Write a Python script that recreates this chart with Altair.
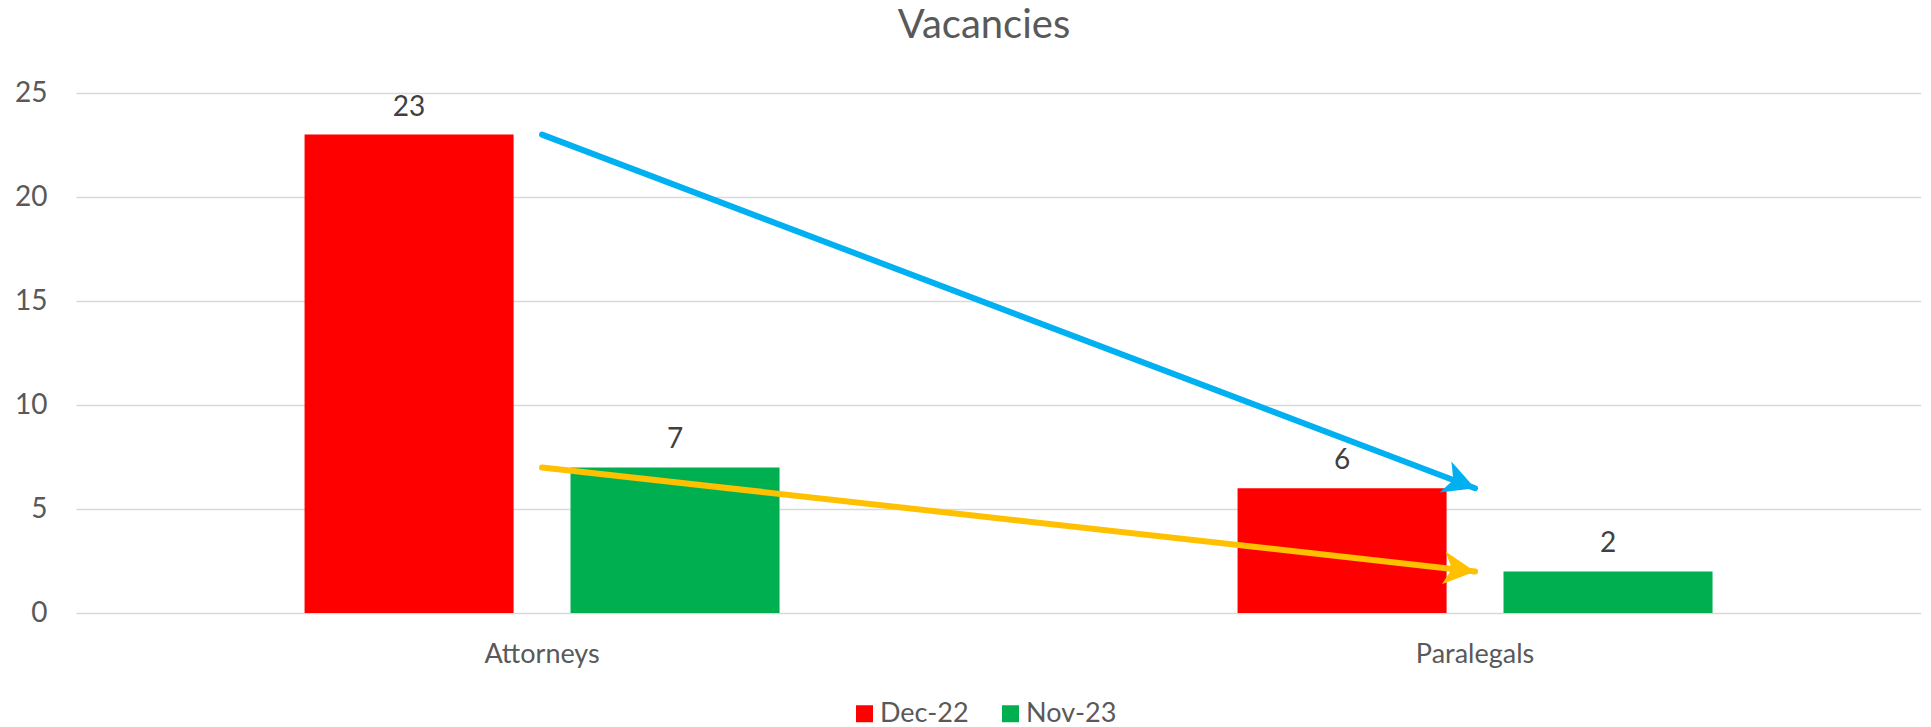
import math
import altair as alt
import pandas as pd

# ---------------- data ----------------
categories = ["Attorneys", "Paralegals"]
series = ["Dec-22", "Nov-23"]
dec22 = [23, 6]
nov23 = [7, 2]
bar_colors = ["#FF0000", "#00B050"]
y_ticks = [0, 5, 10, 15, 20, 25]
chart_title = "Vacancies"
arrow_colors = ["#00B0F0", "#FFC000"]

rows = []
for i, c in enumerate(categories):
    rows.append({"category": c, "series": series[0], "value": dec22[i]})
    rows.append({"category": c, "series": series[1], "value": nov23[i]})
df = pd.DataFrame(rows)

# ---------------- layout ----------------
W, H = 1845, 520
Y_MAX = 25
P_INNER, P_OUTER, ALIGN = 0.4909, 0.2342, 0.523
STEP = W / (len(categories) - P_INNER + 2 * P_OUTER)
FONT = "Lato"
TXT = "#595959"
GRID = "#D9D9D9"

x_scale = alt.Scale(paddingInner=P_INNER, paddingOuter=P_OUTER, align=ALIGN)
x_enc = alt.X(
    "category:N", sort=categories, scale=x_scale, title=None,
    axis=alt.Axis(domain=False, ticks=False, tickSize=0, grid=False, labelAngle=0,
                  labelFont=FONT, labelFontSize=27, labelColor=TXT, labelPadding=28),
)
y_enc = alt.Y(
    "value:Q", scale=alt.Scale(domain=[0, Y_MAX], nice=False), title=None,
    axis=alt.Axis(values=y_ticks, domain=False, ticks=False, tickSize=0, grid=True,
                  gridColor=GRID, gridWidth=1.5, labelFont=FONT, labelFontSize=28,
                  labelColor=TXT, labelPadding=29),
)
xoff_enc = alt.XOffset("series:N", sort=series,
                       scale=alt.Scale(paddingInner=0.214, paddingOuter=0))

base = alt.Chart(df)
bars = base.mark_bar().encode(
    x=x_enc,
    xOffset=xoff_enc,
    y=y_enc,
    color=alt.Color(
        "series:N", sort=series,
        scale=alt.Scale(domain=series, range=bar_colors),
        legend=alt.Legend(orient="none", legendX=775, legendY=607, direction="horizontal",
                          title=None, symbolType="square", symbolSize=289,
                          symbolStrokeWidth=0, labelFont=FONT, labelFontSize=27,
                          labelColor=TXT, labelOffset=2, columnPadding=28, padding=0),
    ),
)
labels = base.mark_text(dy=-19, baseline="alphabetic", font=FONT, fontSize=28,
                        color="#404040").encode(
    x=alt.X("category:N", sort=categories),
    xOffset=alt.XOffset("series:N", sort=series),
    y=alt.Y("value:Q"),
    text=alt.Text("value:Q"),
)

# chart title drawn as a text mark above the plot area
title_df = pd.DataFrame({"title": [chart_title]})
title_mark = alt.Chart(title_df).mark_text(
    font=FONT, fontSize=40, color=TXT, align="center", baseline="alphabetic"
).encode(x=alt.value(908), y=alt.value(-55), text="title:N")

ARROW_PATH = "M0,0 L-2.1,-1.1 L-1.55,0 L-2.1,1.1 Z"
layers = [bars, labels, title_mark]
for vals, col in zip([dec22, nov23], arrow_colors):
    adf = pd.DataFrame({"category": categories, "value": vals})
    dy_px = (vals[0] - vals[1]) * H / Y_MAX
    ang = math.degrees(math.atan2(dy_px, STEP))
    line = alt.Chart(adf).mark_line(color=col, strokeWidth=6, strokeCap="round").encode(
        x=alt.X("category:N", sort=categories), y=alt.Y("value:Q"))
    head = alt.Chart(adf.iloc[[-1]]).mark_point(
        shape=ARROW_PATH, filled=True, size=900, angle=ang, color=col,
        opacity=1, strokeWidth=0).encode(
        x=alt.X("category:N", sort=categories), y=alt.Y("value:Q"))
    layers += [line, head]

chart = alt.layer(*layers).properties(
    width=W, height=H,
    autosize=alt.AutoSizeParams(type="none"),
    padding={"left": 68, "top": 85, "right": 0, "bottom": 114},
).configure_view(stroke=None)

chart.save("out.html", embed_options={"renderer": "svg", "actions": False})
